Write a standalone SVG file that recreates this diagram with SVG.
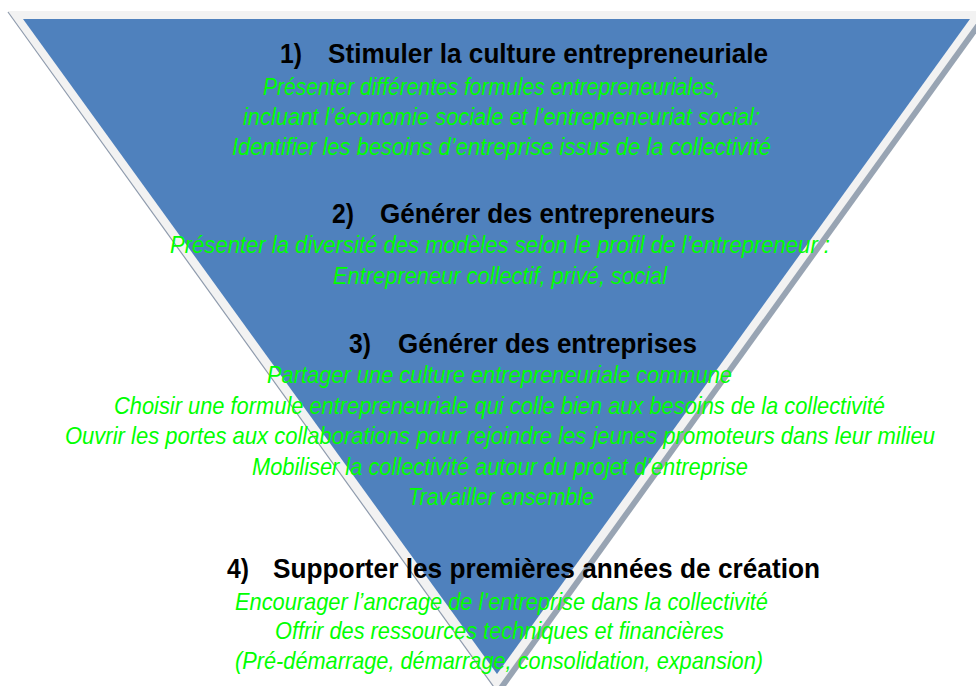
<svg xmlns="http://www.w3.org/2000/svg" width="976" height="686" viewBox="0 0 976 686">
  <style>
    .t { font-family: "Liberation Sans", Arial, sans-serif; font-weight: bold; font-size: 27px; fill: #000000; }
    .g { font-family: "Liberation Sans", Arial, sans-serif; font-style: italic; font-size: 24px; fill: #00FF00; }
  </style>
  <rect x="0" y="0" width="976" height="686" fill="#FFFFFF"/>
  <g id="funnel">
    <polygon points="13,14 990,14 501,693" fill="#98A4B3"/>
    <polygon points="8,11 985,11 496,690" fill="#F2F2F2"/>
    <line x1="8" y1="12" x2="496" y2="690" stroke="#8E9AAC" stroke-width="1.2"/>
    <polygon points="23,19 970,19 497,674" fill="#4F81BD"/>
  </g>
  <g id="step1">
    <text class="t" x="280" y="63" textLength="22" lengthAdjust="spacingAndGlyphs">1)</text>
    <text class="t" x="328" y="63" textLength="440" lengthAdjust="spacingAndGlyphs">Stimuler la culture entrepreneuriale</text>
    <text class="g" x="263" y="95" textLength="457" lengthAdjust="spacingAndGlyphs">Présenter différentes formules entrepreneuriales,</text>
    <text class="g" x="243" y="125" textLength="517" lengthAdjust="spacingAndGlyphs">incluant l’économie sociale et l’entrepreneuriat social:</text>
    <text class="g" x="232" y="155" textLength="539" lengthAdjust="spacingAndGlyphs">Identifier les besoins d’entreprise issus de  la collectivité</text>
  </g>
  <g id="step2">
    <text class="t" x="332" y="223" textLength="22" lengthAdjust="spacingAndGlyphs">2)</text>
    <text class="t" x="380" y="223" textLength="335" lengthAdjust="spacingAndGlyphs">Générer des entrepreneurs</text>
    <text class="g" x="170" y="253" textLength="660" lengthAdjust="spacingAndGlyphs">Présenter la  diversité des modèles selon le profil de l’entrepreneur :</text>
    <text class="g" x="333" y="284" textLength="334" lengthAdjust="spacingAndGlyphs">Entrepreneur collectif, privé, social</text>
  </g>
  <g id="step3">
    <text class="t" x="349" y="353" textLength="22" lengthAdjust="spacingAndGlyphs">3)</text>
    <text class="t" x="398" y="353" textLength="299" lengthAdjust="spacingAndGlyphs">Générer des entreprises</text>
    <text class="g" x="267" y="383" textLength="465" lengthAdjust="spacingAndGlyphs">Partager une culture entrepreneuriale commune</text>
    <text class="g" x="114" y="414" textLength="771" lengthAdjust="spacingAndGlyphs">Choisir une formule entrepreneuriale qui colle bien aux besoins de la collectivité</text>
    <text class="g" x="65" y="444" textLength="870" lengthAdjust="spacingAndGlyphs">Ouvrir les portes aux collaborations pour rejoindre les jeunes promoteurs dans leur  milieu</text>
    <text class="g" x="252" y="475" textLength="496" lengthAdjust="spacingAndGlyphs">Mobiliser la collectivité autour du projet d’entreprise</text>
    <text class="g" x="408" y="505" textLength="186" lengthAdjust="spacingAndGlyphs">Travailler ensemble</text>
  </g>
  <g id="step4">
    <text class="t" x="227" y="578" textLength="22" lengthAdjust="spacingAndGlyphs">4)</text>
    <text class="t" x="273" y="578" textLength="547" lengthAdjust="spacingAndGlyphs">Supporter les premières années de création</text>
    <text class="g" x="235" y="610" textLength="533" lengthAdjust="spacingAndGlyphs">Encourager l’ancrage de l’entreprise dans la collectivité</text>
    <text class="g" x="275" y="639" textLength="449" lengthAdjust="spacingAndGlyphs">Offrir des ressources techniques et financières</text>
    <text class="g" x="235" y="669" textLength="528" lengthAdjust="spacingAndGlyphs">(Pré-démarrage, démarrage, consolidation, expansion)</text>
  </g>
  <g id="connectors"/>
</svg>
